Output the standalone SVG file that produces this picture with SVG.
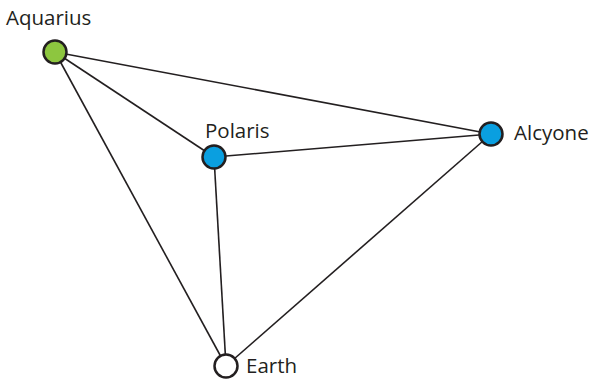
<svg xmlns="http://www.w3.org/2000/svg" width="596" height="380" viewBox="0 0 596 380">
<style>
.edge{stroke:#231f20;stroke-width:1.6;fill:none}
.node{stroke:#231f20;stroke-width:2.5}
.lbl{font-family:"Open Sans","Liberation Sans",sans-serif;font-size:20.5px;fill:#231f20}
</style>
<rect width="596" height="380" fill="#fff"/>
<g id="connectors">
<line class="edge" x1="55" y1="52" x2="491" y2="134"/>
<line class="edge" x1="55" y1="52" x2="214" y2="157"/>
<line class="edge" x1="55" y1="52" x2="226" y2="366"/>
<line class="edge" x1="214" y1="157" x2="491" y2="134"/>
<line class="edge" x1="214" y1="157" x2="226" y2="366"/>
<line class="edge" x1="491" y1="134" x2="226" y2="366"/>
</g>
<g id="aquarius"><circle class="node" cx="55" cy="52" r="11.5" fill="#8dc63f"/><text class="lbl" x="6" y="25">Aquarius</text></g>
<g id="polaris"><circle class="node" cx="214" cy="157" r="11.5" fill="#0a9fe0"/><text class="lbl" x="205" y="138">Polaris</text></g>
<g id="alcyone"><circle class="node" cx="491" cy="134" r="11.5" fill="#0a9fe0"/><text class="lbl" x="514" y="140">Alcyone</text></g>
<g id="earth"><circle class="node" cx="226" cy="366" r="11.5" fill="#fff"/><text class="lbl" x="246" y="373">Earth</text></g>
</svg>
